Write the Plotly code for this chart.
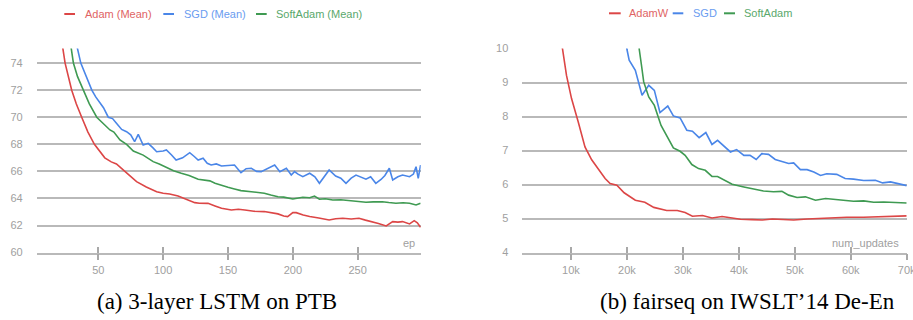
import plotly.graph_objects as go

# ---------------- data: (a) 3-layer LSTM on PTB ----------------
adam_ep = [18, 22.3, 24.4, 29.5, 33, 37.2, 42, 47, 51, 55, 60, 64, 70.5, 75, 79.5, 87, 95, 100, 105, 111.5,
           118, 124.4, 128, 134.6, 140, 145, 152.6, 158, 163, 170, 178, 183, 188.5, 193, 196, 200, 202.6, 208,
           213, 220, 228, 233, 238.5, 245, 251, 256, 261.5, 266, 272, 277, 281, 284.6, 290, 293.6, 296, 298.5]
adam_val = [78, 75.3, 74, 72, 71, 70, 68.9, 68, 67.5, 67.0, 66.7, 66.55, 66, 65.6, 65.24, 64.85, 64.5, 64.38, 64.33, 64.18,
            63.95, 63.69, 63.65, 63.64, 63.45, 63.28, 63.15, 63.2, 63.15, 63.05, 63.03, 62.95, 62.86, 62.7, 62.66, 62.95, 62.95, 62.78,
            62.66, 62.55, 62.41, 62.5, 62.54, 62.48, 62.54, 62.4, 62.29, 62.15, 61.97, 62.29, 62.25, 62.29, 62.12, 62.36, 62.2, 61.87]

sgd_ep = [20, 33.4, 36.5, 41, 45, 48, 51.3, 54, 57.7, 61, 64, 68, 71.8, 75, 78, 80.8, 84.6, 88.5, 92, 95, 100, 102.5,
          106.5, 110, 115, 120.5, 124, 127, 130.8, 134, 137, 141, 145, 150, 155, 160, 164, 168, 172, 175.6, 180, 186,
          190, 195, 198.8, 201.3, 204, 207.7, 213, 217, 220.5, 224, 228, 233, 237, 241, 245, 248.7, 252, 256.4, 260,
          264, 268, 271, 274.4, 277, 281, 284.6, 290, 293, 295, 296.7, 298.5]
sgd_val = [80, 75.3, 74, 73.0, 72, 71.5, 71.03, 70.7, 70, 69.9, 69.55, 69.1, 68.93, 68.7, 68.19, 68.74, 67.95, 68.07, 67.75, 67.45, 67.5, 67.58,
           67.21, 66.84, 67.0, 67.38, 67.1, 66.84, 66.97, 66.6, 66.47, 66.55, 66.4, 66.45, 66.47, 65.9, 66.2, 66.23, 66.0, 65.98, 66.2, 66.47,
           65.98, 66.23, 65.73, 65.98, 65.8, 65.61, 65.86, 65.6, 65.12, 65.6, 66.1, 65.66, 65.5, 65.12, 65.5, 65.73, 65.6, 65.42, 65.6,
           65.12, 65.4, 65.7, 66.23, 65.37, 65.6, 65.73, 65.61, 65.8, 66.35, 65.49, 66.47]

soft_ep = [15, 28.8, 30.8, 34, 38.5, 43, 48.8, 54, 59, 62, 66.7, 71.8, 77, 84.6, 88, 92.3, 97, 102.6, 108, 114, 120,
           127, 132, 136, 140, 145, 150, 155, 160, 168, 173, 178, 183, 188.5, 193, 197, 200, 207.7, 213, 216.7, 220.5,
           225, 230.8, 237, 243.6, 250, 256.4, 262, 269, 274, 279.5, 285, 290, 295, 298.5]
soft_val = [79, 75.3, 74, 73, 72, 71, 70, 69.5, 69.06, 68.9, 68.32, 68, 67.5, 67.2, 67.0, 66.72, 66.55, 66.28, 66.05, 65.86, 65.7,
            65.42, 65.37, 65.3, 65.12, 65.0, 64.83, 64.7, 64.58, 64.5, 64.45, 64.38, 64.25, 64.13, 64.1, 64.03, 63.96, 64.09, 64.05, 64.18, 63.94,
            63.98, 63.89, 63.9, 63.84, 63.8, 63.72, 63.75, 63.76, 63.7, 63.65, 63.68, 63.65, 63.52, 63.65]

# ---------------- data: (b) fairseq on IWSLT'14 De-En ----------------
adamw_k = [7.8, 8.5, 9.2, 10.1, 11.3, 12.5, 13.7, 15.2, 16.1, 17.0, 18.2, 19.5, 21.5, 23.2, 24.8, 27.1, 29.0, 30.4,
           31.7, 33.5, 35.2, 37.0, 38.5, 40.3, 42.4, 44.2, 46, 48, 49.8, 52.2, 55.7, 59.3, 62.3, 65.3, 67.7, 70]
adamw_val = [10.6, 9.98, 9.21, 8.53, 7.84, 7.11, 6.73, 6.37, 6.18, 6.03, 5.98, 5.76, 5.54, 5.48, 5.33, 5.24, 5.24, 5.18,
             5.07, 5.09, 5.02, 5.06, 5.03, 4.98, 4.97, 4.96, 4.99, 4.98, 4.96, 4.99, 5.02, 5.04, 5.04, 5.06, 5.08, 5.08]

sgd2_k = [19.6, 20.0, 20.4, 21.5, 22.7, 23.9, 24.9, 25.9, 27.3, 28.3, 29.5, 30.7, 31.7, 32.9, 34.1, 35.2, 36.2, 37.5,
          38.5, 39.6, 40.9, 42, 43.1, 44.1, 45.3, 46.5, 47.7, 48.9, 49.8, 51, 52.2, 53.4, 54.6, 55.7, 57.5, 59, 60.5,
          62.3, 64.4, 65.7, 67.1, 68.3, 70]
sgd2_val = [10.5, 9.98, 9.66, 9.36, 8.63, 8.92, 8.77, 8.12, 8.31, 8.02, 7.96, 7.6, 7.57, 7.38, 7.53, 7.18, 7.3, 7.11,
            6.96, 7.03, 6.86, 6.86, 6.74, 6.91, 6.89, 6.74, 6.69, 6.62, 6.64, 6.44, 6.44, 6.37, 6.27, 6.32, 6.30, 6.18, 6.16,
            6.12, 6.13, 6.05, 6.08, 6.03, 5.97]

soft2_k = [22.0, 22.2, 22.6, 23.0, 23.9, 24.9, 26.1, 27.1, 28.3, 29.5, 30.4, 31.6, 32.8, 34, 35.2, 36.2, 37.5, 38.8,
           40.9, 42.6, 44.4, 46.2, 47.7, 48.9, 50.4, 51.9, 53.7, 55.5, 57, 58.7, 60.5, 62.3, 64.1, 65.9, 67.7, 70]
soft2_val = [10.5, 9.98, 9.51, 9.02, 8.58, 8.33, 7.74, 7.45, 7.08, 6.98, 6.86, 6.59, 6.47, 6.42, 6.24, 6.24, 6.13, 6.01,
             5.93, 5.88, 5.81, 5.79, 5.8, 5.69, 5.62, 5.64, 5.54, 5.59, 5.57, 5.53, 5.51, 5.52, 5.48, 5.49, 5.47, 5.46]

left_xticks = [50, 100, 150, 200, 250]
left_yticks = [60, 62, 64, 66, 68, 70, 72, 74]
right_xticks = [10000, 20000, 30000, 40000, 50000, 60000, 70000]
right_xticklabels = ["10k", "20k", "30k", "40k", "50k", "60k", "70k"]
right_yticks = [4, 5, 6, 7, 8, 9, 10]
right_gridvals = [5, 6, 7, 8, 9]

left_names = ["Adam (Mean)", "SGD (Mean)", "SoftAdam (Mean)"]
right_names = ["AdamW", "SGD", "SoftAdam"]
captions = ["(a) 3-layer LSTM on PTB", "(b) fairseq on IWSLT\u201914 De-En"]

# ---------------- style ----------------
W, H = 913, 320
RED, BLUE, GREEN = "#dc4646", "#4a86e8", "#3f9a52"
RED_T, BLUE_T, GREEN_T = "#e06464", "#6a9cf0", "#5aa86c"
GRID = "#b9b9b9"
TICKC = "#a8a8a8"
LABELC = "#a0a0a0"
FONT = "Liberation Sans, Arial, sans-serif"
LW = 1.6


def px_x(p):
    return p / W


def px_y(p):
    return 1 - p / H


fig = go.Figure()

fig.add_trace(go.Scatter(x=adam_ep, y=adam_val, mode="lines", line=dict(color=RED, width=LW), xaxis="x", yaxis="y", showlegend=False))
fig.add_trace(go.Scatter(x=sgd_ep, y=sgd_val, mode="lines", line=dict(color=BLUE, width=LW), xaxis="x", yaxis="y", showlegend=False))
fig.add_trace(go.Scatter(x=soft_ep, y=soft_val, mode="lines", line=dict(color=GREEN, width=LW), xaxis="x", yaxis="y", showlegend=False))

fig.add_trace(go.Scatter(x=[k * 1000 for k in adamw_k], y=adamw_val, mode="lines", line=dict(color=RED, width=LW), xaxis="x2", yaxis="y2", showlegend=False))
fig.add_trace(go.Scatter(x=[k * 1000 for k in sgd2_k], y=sgd2_val, mode="lines", line=dict(color=BLUE, width=LW), xaxis="x2", yaxis="y2", showlegend=False))
fig.add_trace(go.Scatter(x=[k * 1000 for k in soft2_k], y=soft2_val, mode="lines", line=dict(color=GREEN, width=LW), xaxis="x2", yaxis="y2", showlegend=False))

ydom = [px_y(252.6), px_y(48.6)]
xdom1 = [px_x(36.7), px_x(420.7)]
xdom2 = [px_x(522.3), px_x(906.7)]
tickfont = dict(family=FONT, size=11, color=LABELC)

xcommon = dict(showgrid=False, zeroline=False, showline=True, linecolor=GRID, linewidth=1.5, automargin=False,
               ticks="outside", ticklen=6, tickwidth=1.5, tickcolor=TICKC, tickfont=tickfont,
               ticklabeloverflow="allow")

fig.update_layout(
    template="none",
    width=W, height=H, margin=dict(l=0, r=0, t=0, b=0, pad=0), autosize=False,
    paper_bgcolor="white", plot_bgcolor="white", showlegend=False,
    xaxis=dict(domain=xdom1, anchor="y", range=[2.5, 298.6], tickvals=left_xticks, **xcommon),
    yaxis=dict(domain=ydom, anchor="x", range=[60, 75.07], tickvals=left_yticks, showgrid=True, automargin=False,
               gridcolor=GRID, gridwidth=1.5, zeroline=False, showline=False, ticks="",
               ticklabelstandoff=13, tickfont=tickfont),
    xaxis2=dict(domain=xdom2, anchor="y2", range=[1300, 70000], tickvals=right_xticks,
                ticktext=right_xticklabels, **xcommon),
    yaxis2=dict(domain=ydom, anchor="x2", range=[4, 10], tickvals=right_yticks, showgrid=False, automargin=False,
                zeroline=False, showline=False, ticks="", ticklabelstandoff=13, tickfont=tickfont),
    # overlay axes: inner halves of the x tick marks, and the right-panel grid (no line at 10)
    xaxis3=dict(overlaying="x", anchor="y", range=[2.5, 298.6], tickvals=left_xticks, ticks="inside",
                ticklen=6, tickwidth=1.5, tickcolor=TICKC, showticklabels=False, showgrid=False,
                zeroline=False, showline=False, automargin=False),
    xaxis4=dict(overlaying="x2", anchor="y2", range=[1300, 70000], tickvals=right_xticks, ticks="inside",
                ticklen=6, tickwidth=1.5, tickcolor=TICKC, showticklabels=False, showgrid=False,
                zeroline=False, showline=False, automargin=False),
    yaxis4=dict(overlaying="y2", anchor="x2", range=[4, 10], tickvals=right_gridvals, showgrid=True,
                gridcolor=GRID, gridwidth=1.5, showticklabels=False, ticks="", zeroline=False, showline=False,
                automargin=False),
)

# invisible anchors so overlay axes are drawn
fig.add_trace(go.Scatter(x=[None], y=[None], xaxis="x3", yaxis="y", showlegend=False, hoverinfo="skip"))
fig.add_trace(go.Scatter(x=[None], y=[None], xaxis="x4", yaxis="y4", showlegend=False, hoverinfo="skip"))

annotations = []
shapes = []

# axis titles inside plots
annotations.append(dict(x=px_x(417), y=px_y(243), xref="paper", yref="paper", text="ep", showarrow=False,
                        xanchor="right", yanchor="middle", font=dict(family=FONT, size=11, color=LABELC)))
annotations.append(dict(x=px_x(901), y=px_y(243), xref="paper", yref="paper", text="num_updates", showarrow=False,
                        xanchor="right", yanchor="middle", font=dict(family=FONT, size=11, color=LABELC)))

# legends (text + short line key)
left_keys = [(64.3, 75, 83), (163.3, 174, 181.7), (256, 266.7, 274.3)]
right_keys = [(609, 620.7, 626.7), (672.7, 683.3, 690.7), (724, 735, 742)]
line_cols = [RED, BLUE, GREEN]
text_cols = [RED_T, BLUE_T, GREEN_T]
for names, keys, ly in [(left_names, left_keys, 14), (right_names, right_keys, 13.3)]:
    for name, (k0, k1, tx), lc, tc in zip(names, keys, line_cols, text_cols):
        shapes.append(dict(type="line", xref="paper", yref="paper", x0=px_x(k0), x1=px_x(k1),
                           y0=px_y(ly), y1=px_y(ly), line=dict(color=lc, width=2)))
        annotations.append(dict(x=px_x(tx), y=px_y(ly), xref="paper", yref="paper", text=name, showarrow=False,
                                xanchor="left", yanchor="middle", font=dict(family=FONT, size=11, color=tc)))

# captions
for cap, cx in zip(captions, [217, 747]):
    annotations.append(dict(x=px_x(cx), y=px_y(301), xref="paper", yref="paper", text=cap, showarrow=False,
                            xanchor="center", yanchor="middle",
                            font=dict(family="Liberation Serif, Times New Roman, serif", size=23, color="black")))

fig.update_layout(annotations=annotations, shapes=shapes)
fig.write_html("out.html", config={"displayModeBar": False},
               post_script="document.body.style.margin='0';document.body.style.overflow='hidden';")
